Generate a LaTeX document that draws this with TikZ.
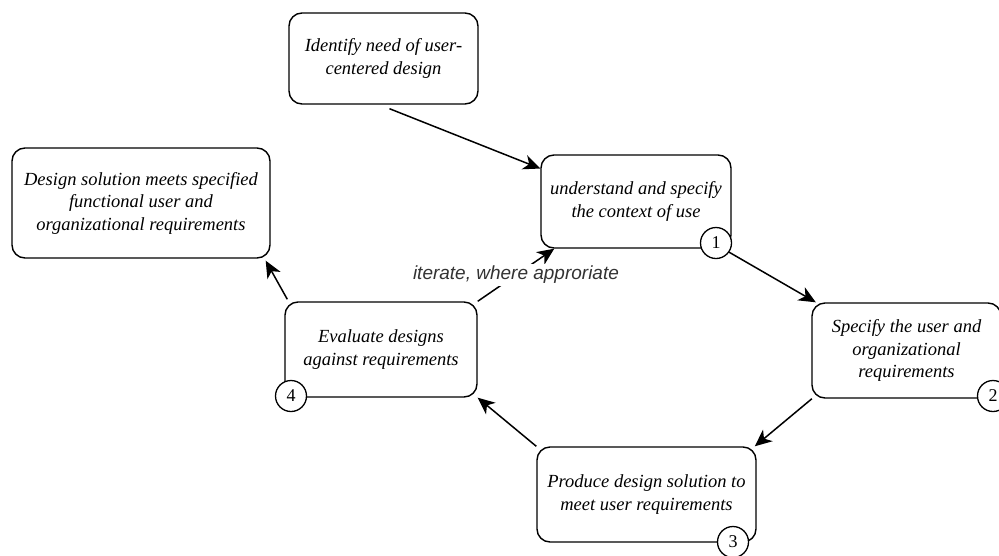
\documentclass[tikz,border=0pt]{standalone}
\usepackage{fontspec}
\setmainfont{Liberation Serif}
\setsansfont{Liberation Sans}
\usetikzlibrary{arrows.meta}

\tikzset{
  stagebox/.style={draw=black, line width=1.4pt, rounded corners=13pt, fill=white,
    align=center, inner sep=0pt,
    font=\fontsize{18.5}{22.5}\selectfont\itshape},
  stepnum/.style={circle, draw=black, line width=1.3pt, fill=white, minimum size=31pt,
    inner sep=0pt, font=\fontsize{18}{18}\selectfont},
  flow/.style={draw=black, line width=1.5pt,
    -{Stealth[length=17pt, width=15pt, inset=5pt]}},
  looplabel/.style={fill=white, inner sep=2pt,
    font=\fontsize{19}{19}\sffamily\itshape\color{black!80}}
}

\begin{document}
\begin{tikzpicture}[x=1pt, y=-1pt]
  \useasboundingbox (0,0) rectangle (999,555);
  \fill[white] (0,0) rectangle (999,555);

  % process stages
  \node[stagebox, minimum width=189pt, minimum height=91pt] (need) at (383.5,58.5)
    {Identify need of user-\\centered design};
  \node[stagebox, minimum width=190pt, minimum height=93pt] (ctx) at (636,201.5)
    {understand and specify\\the context of use};
  \node[stagebox, minimum width=258pt, minimum height=110pt] (sol) at (141,203)
    {Design solution meets specified\\functional user and\\organizational requirements};
  \node[stagebox, minimum width=192pt, minimum height=95pt] (eval) at (381,349.5)
    {Evaluate designs\\against requirements};
  \node[stagebox, minimum width=189pt, minimum height=95pt] (req) at (906.5,350.5)
    {Specify the user and\\organizational\\requirements};
  \node[stagebox, minimum width=219pt, minimum height=95pt] (prod) at (646.5,494.5)
    {Produce design solution to\\meet user requirements};

  % step numbers
  \node[stepnum] (n1) at (716,243) {1};
  \node[stepnum] (n2) at (993,396) {2};
  \node[stepnum] (n3) at (733,542) {3};
  \node[stepnum] (n4) at (291,396) {4};

  % cycle
  \draw[flow] (need.south) ++(6,4) coordinate (needout) -- (ctx.161);
  \draw[flow] (n1.-35) -- (req.152);
  \draw[flow] (req.207) -- (prod.24);
  \draw[flow] (prod.north west) -- (eval.south east);
  \draw[flow] (eval.north west) ++(3,-2) coordinate (evalout) -- ([xshift=-5pt,yshift=-2pt]sol.south east);
  \draw[flow] (eval.north east) -- node[looplabel] {iterate, where approriate} (ctx.210);
\end{tikzpicture}
\end{document}
